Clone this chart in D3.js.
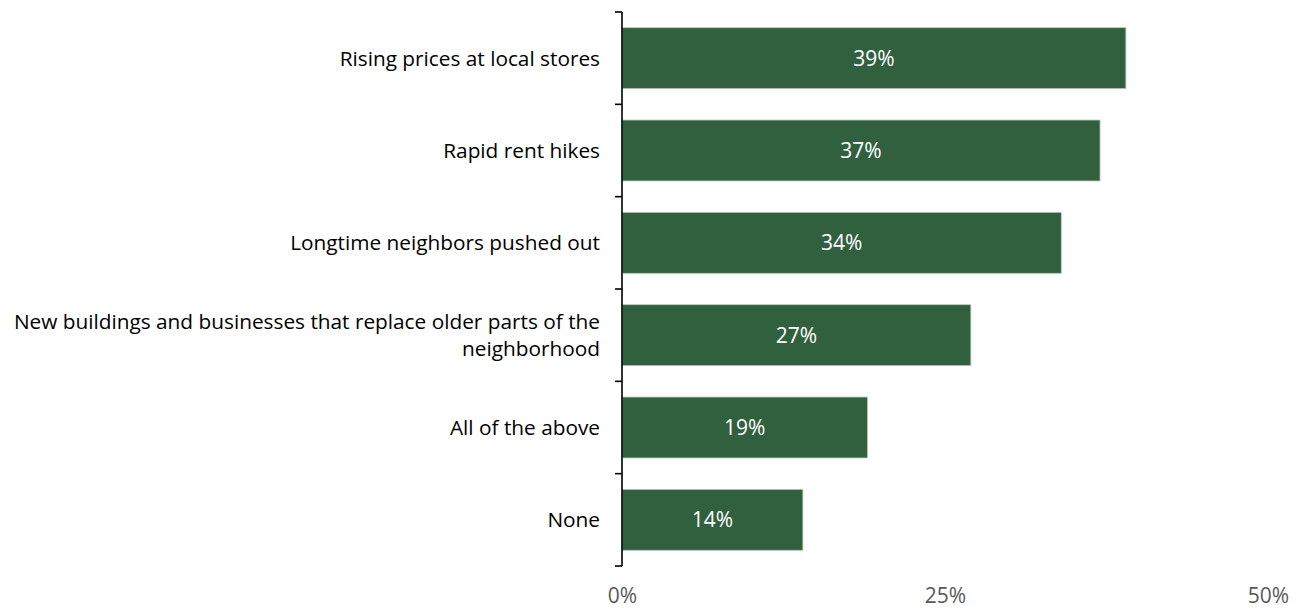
<!DOCTYPE html>
<html>
<head>
<meta charset="utf-8">
<script src="https://cdn.jsdelivr.net/npm/d3@7"></script>
<style>
  html, body { margin: 0; padding: 0; background: #ffffff; }
  svg { display: block; }
</style>
</head>
<body>
<svg id="chart" width="1302" height="608"></svg>
<script>
// Survey responses: share of respondents naming each sign of change
const categories = [
  "Rising prices at local stores",
  "Rapid rent hikes",
  "Longtime neighbors pushed out",
  "New buildings and businesses that replace older parts of the neighborhood",
  "All of the above",
  "None"
];
const values = [39, 37, 34, 27, 19, 14];
const xTicks = [0, 25, 50];

const width = 1302, height = 608;
const margin = { top: 12, right: 34, bottom: 42, left: 622 };
const font = "'Open Sans', 'Noto Sans', sans-serif";

const svg = d3.select("#chart");

const x = d3.scaleLinear()
  .domain([0, 50])
  .range([margin.left, width - margin.right]);

const y = d3.scaleBand()
  .domain(categories)
  .range([margin.top, height - margin.bottom])
  .paddingInner(0.34)
  .paddingOuter(0.17);

// Bars
svg.append("g")
  .selectAll("rect")
  .data(values)
  .join("rect")
  .attr("x", x(0))
  .attr("y", (d, i) => y(categories[i]))
  .attr("width", d => x(d) - x(0))
  .attr("height", y.bandwidth())
  .attr("fill", "#31603e")
  .attr("stroke", "#b9c7bc")
  .attr("stroke-width", 0.8);

// Value labels inside the bars
svg.append("g")
  .selectAll("text")
  .data(values)
  .join("text")
  .attr("x", d => (x(0) + x(d)) / 2)
  .attr("y", (d, i) => y(categories[i]) + y.bandwidth() / 2)
  .attr("dy", "0.36em")
  .attr("text-anchor", "middle")
  .attr("fill", "#ffffff")
  .style("font-family", font)
  .style("font-size", "21px")
  .text(d => d + "%");

// Category axis: vertical line with ticks between categories
const yAxis = svg.append("g");
const boundaries = d3.range(categories.length + 1).map(i => margin.top + i * ((height - margin.bottom - margin.top) / categories.length));
yAxis.append("line")
  .attr("x1", x(0)).attr("x2", x(0))
  .attr("y1", boundaries[0]).attr("y2", boundaries[boundaries.length - 1])
  .attr("stroke", "#000").attr("stroke-width", 1.6);
yAxis.selectAll("line.tick")
  .data(boundaries)
  .join("line")
  .attr("class", "tick")
  .attr("x1", x(0) - 7).attr("x2", x(0))
  .attr("y1", d => d).attr("y2", d => d)
  .attr("stroke", "#000").attr("stroke-width", 1.6);

// Category labels, wrapped to fit the left margin
const labelX = x(0) - 22;
const maxLabelWidth = 600;
const labels = yAxis.selectAll("text.cat")
  .data(categories)
  .join("text")
  .attr("class", "cat")
  .attr("x", labelX)
  .attr("text-anchor", "end")
  .attr("fill", "#000")
  .style("font-family", font)
  .style("font-size", "20.8px");

labels.each(function(d) {
  const t = d3.select(this);
  const words = d.split(" ");
  const lines = [];
  let line = [];
  const probe = t.append("tspan");
  for (const w of words) {
    line.push(w);
    probe.text(line.join(" "));
    if (probe.node().getComputedTextLength() > maxLabelWidth && line.length > 1) {
      line.pop();
      lines.push(line.join(" "));
      line = [w];
    }
  }
  lines.push(line.join(" "));
  probe.remove();
  const lh = 27;
  const cy = y(d) + y.bandwidth() / 2;
  const y0 = cy - (lines.length - 1) * lh / 2;
  lines.forEach((ln, i) => {
    t.append("tspan")
      .attr("x", labelX)
      .attr("y", y0 + i * lh)
      .attr("dy", "0.36em")
      .text(ln);
  });
});

// Value axis labels (no line)
const xAxis = svg.append("g")
  .attr("transform", `translate(0,${height - 5.5})`)
  .call(d3.axisBottom(x).tickValues(xTicks).tickFormat(d => d + "%").tickSize(0));
xAxis.select(".domain").remove();
xAxis.selectAll("text")
  .attr("fill", "#595959")
  .attr("dy", "0")
  .attr("y", 0)
  .style("font-family", font)
  .style("font-size", "21px");
</script>
</body>
</html>
